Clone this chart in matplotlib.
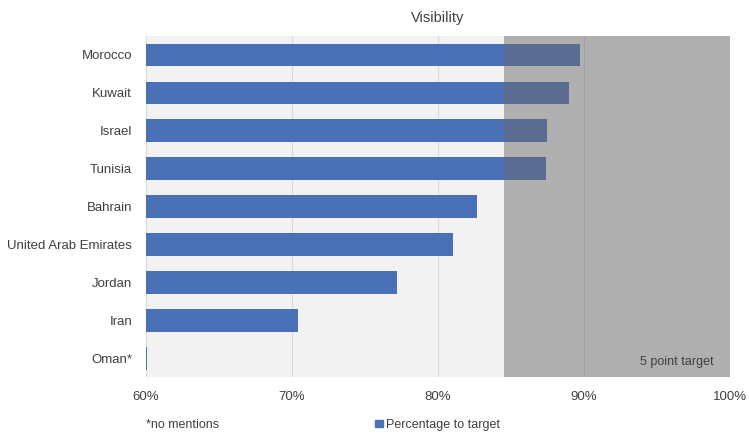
import matplotlib.pyplot as plt
from matplotlib.patches import Patch

countries = ['Morocco', 'Kuwait', 'Israel', 'Tunisia', 'Bahrain',
             'United Arab Emirates', 'Jordan', 'Iran', 'Oman*']
values = [89.7, 89.0, 87.5, 87.4, 82.7, 81.0, 77.2, 70.4, 60.08]
ticks = [60, 70, 80, 90, 100]
target_start = 84.5

plt.rcParams['font.family'] = ['Liberation Sans', 'DejaVu Sans']
txt = '#404040'

fig = plt.figure(figsize=(7.49, 4.34), dpi=100)
ax = fig.add_axes([0.195, 0.131, 0.7795, 0.786])
ax.set_facecolor('#f2f2f2')

y = range(len(countries))
ax.barh(y, values, height=0.6, color='#4a70b7', zorder=2)
ax.axvspan(target_start, 100, color='#6b6b6b', alpha=0.49, lw=0, zorder=3)

ax.set_xlim(60, 100)
ax.set_ylim(len(countries) - 0.5, -0.5)
ax.set_yticks(list(y))
ax.set_yticklabels(countries, fontsize=9.5, color=txt)
ax.set_xticks(ticks)
ax.set_xticklabels(['{}%'.format(t) for t in ticks], fontsize=9.5, color=txt)
ax.tick_params(length=0, pad=10)
ax.tick_params(axis='y', pad=10)
ax.grid(axis='x', color='#d9d9d9', lw=0.8, zorder=1)
for s in ax.spines.values():
    s.set_visible(False)

ax.set_title('Visibility', fontsize=10.5, color=txt, pad=10)
ax.text(98.9, 8.1, '5 point target', ha='right', va='center', fontsize=9, color=txt, zorder=4)

fig.text(0.195, 0.021, '*no mentions', fontsize=9, color=txt, va='center')
fig.legend(handles=[Patch(color='#4a70b7', label='Percentage to target')],
           loc='center left', bbox_to_anchor=(0.501, 0.021), frameon=False,
           fontsize=9, handlelength=0.6, handleheight=0.6, handletextpad=0.3,
           labelcolor=txt, borderpad=0, borderaxespad=0)

fig.savefig('out.png', dpi=100)
